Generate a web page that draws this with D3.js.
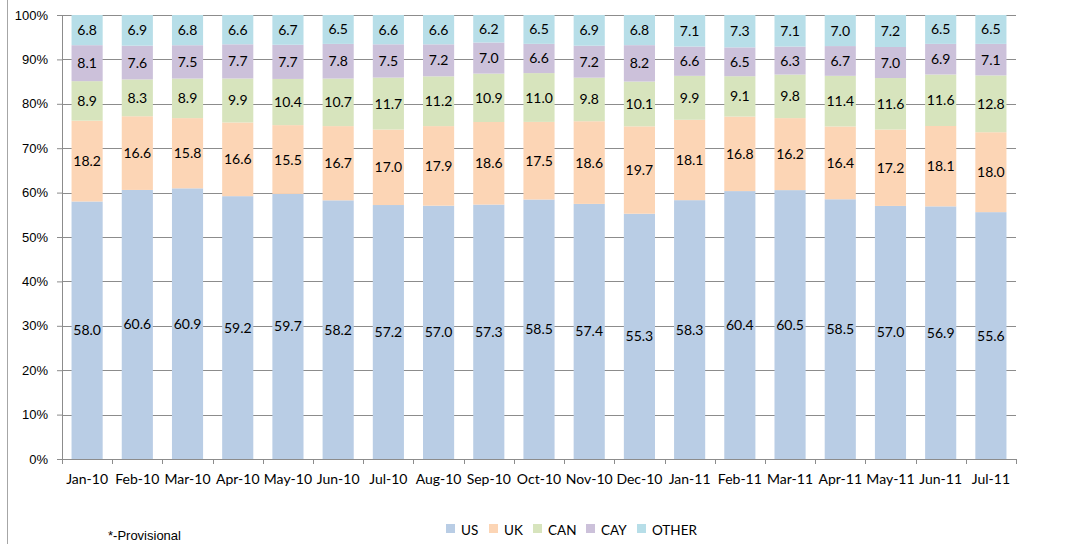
<!DOCTYPE html>
<html>
<head>
<meta charset="utf-8">
<script src="https://cdn.jsdelivr.net/npm/d3@7/dist/d3.min.js"></script>
<style>
  body { margin: 0; background: #fff; }
  svg { display: block; }
</style>
</head>
<body>
<div class="chart"></div>
<script>
// chart data
var months = ["Jan-10","Feb-10","Mar-10","Apr-10","May-10","Jun-10","Jul-10","Aug-10","Sep-10","Oct-10",
  "Nov-10","Dec-10","Jan-11","Feb-11","Mar-11","Apr-11","May-11","Jun-11","Jul-11"];
var seriesNames = ["US","UK","CAN","CAY","OTHER"];
var usVals = [58.0,60.6,60.9,59.2,59.7,58.2,57.2,57.0,57.3,58.5,57.4,55.3,58.3,60.4,60.5,58.5,57.0,56.9,55.6];
var ukVals = [18.2,16.6,15.8,16.6,15.5,16.7,17.0,17.9,18.6,17.5,18.6,19.7,18.1,16.8,16.2,16.4,17.2,18.1,18.0];
var canVals = [8.9,8.3,8.9,9.9,10.4,10.7,11.7,11.2,10.9,11.0,9.8,10.1,9.9,9.1,9.8,11.4,11.6,11.6,12.8];
var cayVals = [8.1,7.6,7.5,7.7,7.7,7.8,7.5,7.2,7.0,6.6,7.2,8.2,6.6,6.5,6.3,6.7,7.0,6.9,7.1];
var otherVals = [6.8,6.9,6.8,6.6,6.7,6.5,6.6,6.6,6.2,6.5,6.9,6.8,7.1,7.3,7.1,7.0,7.2,6.5,6.5];
var yTicks = [0,10,20,30,40,50,60,70,80,90,100];

var colors = ["#b9cde5","#fcd5b5","#d7e4bd","#ccc1da","#b7dee8"];

var svgWidth = 1073, svgHeight = 544;
var margin = {top: 15, left: 62, right: 57, bottom: 85};
var width = svgWidth - margin.left - margin.right;
var height = svgHeight - margin.top - margin.bottom;

var svg = d3.select(".chart").append("svg")
  .attr("width", svgWidth)
  .attr("height", svgHeight);

// outer frame edge on the left
svg.append("line")
  .attr("x1", 7.5).attr("x2", 7.5)
  .attr("y1", 0).attr("y2", svgHeight)
  .attr("stroke", "#a6a6a6");

var chartGroup = svg.append("g")
  .attr("transform", `translate(${margin.left}, ${margin.top})`);

// build rows for stacking (100% stacked, so normalise each month)
var allVals = [usVals, ukVals, canVals, cayVals, otherVals];
var rows = months.map(function(m, i) {
  var row = {month: m};
  var total = d3.sum(allVals, v => v[i]);
  seriesNames.forEach(function(s, j) {
    row[s] = allVals[j][i] / total * 100;
    row[s + "_raw"] = allVals[j][i];
  });
  return row;
});

var stacked = d3.stack().keys(seriesNames)(rows);

var xScale = d3.scaleBand()
  .domain(months)
  .range([0, width])
  .paddingInner(0.38)
  .paddingOuter(0.19);

var yScale = d3.scaleLinear()
  .domain([0, 100])
  .range([height, 0]);

// gridlines
chartGroup.selectAll(".grid")
  .data(yTicks.slice(1))
  .enter()
  .append("line")
  .attr("x1", 0).attr("x2", width)
  .attr("y1", d => Math.round(yScale(d)) + 0.5)
  .attr("y2", d => Math.round(yScale(d)) + 0.5)
  .attr("stroke", "#8c8c8c");

// bars
var layers = chartGroup.selectAll(".layer")
  .data(stacked)
  .enter()
  .append("g")
  .attr("fill", (d, i) => colors[i]);

layers.selectAll("rect")
  .data(d => d)
  .enter()
  .append("rect")
  .attr("x", d => xScale(d.data.month))
  .attr("width", xScale.bandwidth())
  .attr("y", d => yScale(d[1]))
  .attr("height", d => yScale(d[0]) - yScale(d[1]));

// value labels
stacked.forEach(function(layer) {
  chartGroup.selectAll(".lbl-" + layer.key)
    .data(layer)
    .enter()
    .append("text")
    .attr("x", d => xScale(d.data.month) + xScale.bandwidth() / 2)
    .attr("y", d => (yScale(d[0]) + yScale(d[1])) / 2 + 5)
    .attr("text-anchor", "middle")
    .attr("font-family", "Lato, 'Open Sans', sans-serif")
    .attr("font-size", "14px")
    .attr("fill", "#000")
    .text(d => d.data[layer.key + "_raw"].toFixed(1));
});

// y axis
var leftAxis = d3.axisLeft(yScale)
  .tickValues(yTicks)
  .tickFormat(d => d + "%")
  .tickSize(5)
  .tickPadding(9);

var yAxis = chartGroup.append("g").call(leftAxis);
yAxis.select(".domain").attr("stroke", "#8c8c8c");
yAxis.selectAll(".tick line").attr("stroke", "#8c8c8c");
yAxis.selectAll("text")
  .attr("font-family", "'Liberation Sans', Arial, sans-serif")
  .attr("font-size", "13px")
  .attr("fill", "#000");

// x axis (ticks between categories)
var xAxisG = chartGroup.append("g")
  .attr("transform", `translate(0, ${height})`);
xAxisG.append("line")
  .attr("x1", 0).attr("x2", width)
  .attr("y1", 0.5).attr("y2", 0.5)
  .attr("stroke", "#8c8c8c");
var edgeTicks = d3.range(months.length + 1).map(i => i * width / months.length);
xAxisG.selectAll(".xt")
  .data(edgeTicks)
  .enter()
  .append("line")
  .attr("x1", d => Math.round(d) + 0.5).attr("x2", d => Math.round(d) + 0.5)
  .attr("y1", 0).attr("y2", 5)
  .attr("stroke", "#8c8c8c");
xAxisG.selectAll(".xl")
  .data(months)
  .enter()
  .append("text")
  .attr("x", d => xScale(d) + xScale.bandwidth() / 2)
  .attr("y", 25)
  .attr("text-anchor", "middle")
  .attr("font-family", "Lato, 'Open Sans', sans-serif")
  .attr("font-size", "14px")
  .attr("fill", "#000")
  .text(d => d);

// legend
var legendX = [446, 489, 533, 586, 637];
var legend = svg.selectAll(".legend")
  .data(seriesNames)
  .enter()
  .append("g")
  .attr("transform", (d, i) => `translate(${legendX[i]}, 524)`);
legend.append("rect")
  .attr("width", 9).attr("height", 9)
  .attr("fill", (d, i) => colors[i]);
legend.append("text")
  .attr("x", 15).attr("y", 11)
  .attr("font-family", "Lato, 'Open Sans', sans-serif")
  .attr("font-size", "13.5px")
  .attr("fill", "#000")
  .text(d => d);

svg.append("text")
  .attr("x", 108).attr("y", 540)
  .attr("font-family", "'Liberation Sans', Arial, sans-serif")
  .attr("font-size", "13px")
  .attr("fill", "#000")
  .text("*-Provisional");
</script>
</body>
</html>
